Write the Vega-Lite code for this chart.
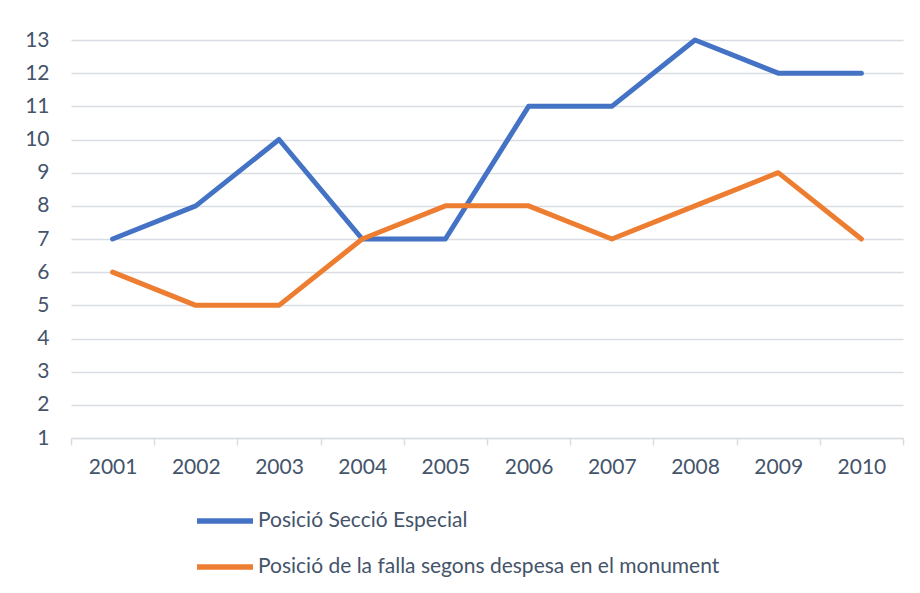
{
  "$schema": "https://vega.github.io/schema/vega-lite/v6.json",
  "width": 832,
  "height": 398,
  "autosize": {"type": "none"},
  "padding": {"left": 71, "top": 40, "right": 17, "bottom": 155},
  "background": "white",
  "data": {
    "values": [
      {"year": "2001", "serie": "Posició Secció Especial", "pos": 7},
      {"year": "2002", "serie": "Posició Secció Especial", "pos": 8},
      {"year": "2003", "serie": "Posició Secció Especial", "pos": 10},
      {"year": "2004", "serie": "Posició Secció Especial", "pos": 7},
      {"year": "2005", "serie": "Posició Secció Especial", "pos": 7},
      {"year": "2006", "serie": "Posició Secció Especial", "pos": 11},
      {"year": "2007", "serie": "Posició Secció Especial", "pos": 11},
      {"year": "2008", "serie": "Posició Secció Especial", "pos": 13},
      {"year": "2009", "serie": "Posició Secció Especial", "pos": 12},
      {"year": "2010", "serie": "Posició Secció Especial", "pos": 12},
      {"year": "2001", "serie": "Posició de la falla segons despesa en el monument", "pos": 6},
      {"year": "2002", "serie": "Posició de la falla segons despesa en el monument", "pos": 5},
      {"year": "2003", "serie": "Posició de la falla segons despesa en el monument", "pos": 5},
      {"year": "2004", "serie": "Posició de la falla segons despesa en el monument", "pos": 7},
      {"year": "2005", "serie": "Posició de la falla segons despesa en el monument", "pos": 8},
      {"year": "2006", "serie": "Posició de la falla segons despesa en el monument", "pos": 8},
      {"year": "2007", "serie": "Posició de la falla segons despesa en el monument", "pos": 7},
      {"year": "2008", "serie": "Posició de la falla segons despesa en el monument", "pos": 8},
      {"year": "2009", "serie": "Posició de la falla segons despesa en el monument", "pos": 9},
      {"year": "2010", "serie": "Posició de la falla segons despesa en el monument", "pos": 7}
    ]
  },
  "mark": {"type": "line", "strokeWidth": 5, "strokeJoin": "round", "strokeCap": "round"},
  "encoding": {
    "x": {
      "field": "year",
      "type": "ordinal",
      "bandPosition": 0.5,
      "scale": {"type": "band", "paddingInner": 0, "paddingOuter": 0},
      "axis": {
        "title": null,
        "labelAngle": 0,
        "tickBand": "extent",
        "domainColor": "#D9DDE3",
        "domainWidth": 1.5,
        "tickColor": "#D9DDE3",
        "tickWidth": 1.5,
        "tickSize": 7,
        "labelPadding": 11,
        "labelFont": "Lato",
        "labelFontSize": 21,
        "labelColor": "#44546A",
        "grid": false
      }
    },
    "y": {
      "field": "pos",
      "type": "quantitative",
      "scale": {"domain": [1, 13], "nice": false, "zero": false},
      "axis": {
        "title": null,
        "values": [1, 2, 3, 4, 5, 6, 7, 8, 9, 10, 11, 12, 13],
        "domain": false,
        "ticks": false,
        "labelPadding": 22,
        "labelFont": "Lato",
        "labelFontSize": 21,
        "labelColor": "#44546A",
        "gridColor": "#D9DDE3",
        "gridWidth": 1.5
      }
    },
    "color": {
      "field": "serie",
      "type": "nominal",
      "scale": {
        "domain": ["Posició Secció Especial", "Posició de la falla segons despesa en el monument"],
        "range": ["#4472C4", "#ED7D31"]
      },
      "legend": {
        "title": null,
        "orient": "none",
        "legendX": 123,
        "legendY": 470,
        "direction": "vertical",
        "symbolType": "stroke",
        "symbolSize": 3136,
        "symbolStrokeWidth": 5.5,
        "clipHeight": 22,
        "rowPadding": 24,
        "labelOffset": 2,
        "labelFont": "Lato",
        "labelFontSize": 21,
        "labelColor": "#44546A",
        "labelLimit": 700
      }
    }
  },
  "config": {"view": {"stroke": null}}
}
